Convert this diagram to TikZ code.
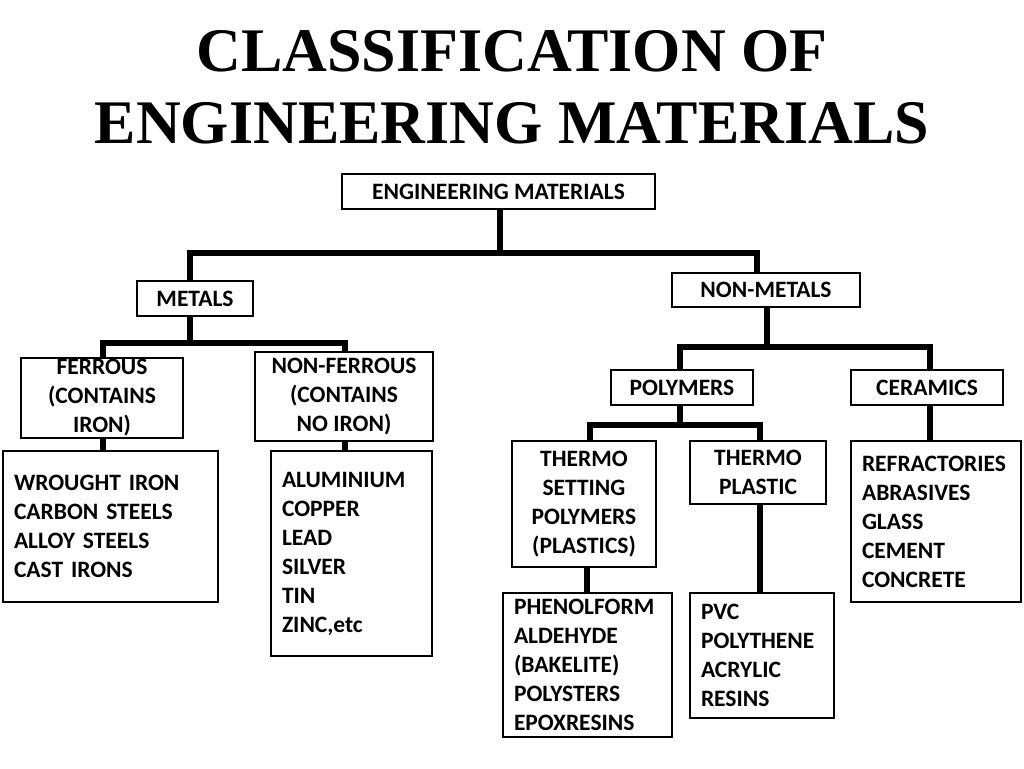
\documentclass[tikz,border=0pt]{standalone}
\usepackage{fontspec}
\setmainfont{Liberation Serif}
\newfontfamily\boxfont{Carlito}
\begin{document}
\begin{tikzpicture}[x=1pt,y=-1pt,
  bx/.style={draw,line width=2pt,inner sep=0pt,font=\boxfont\bfseries\fontsize{23.5}{29}\selectfont},
  lst/.style={bx,align=left,inner xsep=11pt,text width=#1-22pt},
  ctr/.style={bx,align=center},
  cn/.style={line width=5.5pt}]
\useasboundingbox (0,0) rectangle (1024,768);
\node[font=\bfseries\fontsize{62}{72}\selectfont,align=center] (title) at (512,87) {CLASSIFICATION OF\\ENGINEERING MATERIALS};
\node[ctr,minimum width=313,minimum height=35] (em) at (498.5,191.5) {ENGINEERING MATERIALS};
\node[ctr,minimum width=116,minimum height=35] (met) at (195,298.5) {METALS};
\node[ctr,minimum width=188,minimum height=34] (nm) at (766,290) {NON-METALS};
\node[ctr,minimum width=162,minimum height=80] (fe) at (102,398) {FERROUS\\(CONTAINS\\IRON)};
\node[ctr,minimum width=178,minimum height=89] (nf) at (344,396.5) {NON-FERROUS\\(CONTAINS\\NO IRON)};
\node[ctr,minimum width=142,minimum height=35] (pol) at (682,387.5) {POLYMERS};
\node[ctr,minimum width=152,minimum height=35] (cer) at (927,387.5) {CERAMICS};
\node[lst=215,minimum height=151] (wl) at (110.5,526.5) {WROUGHT IRON\\CARBON STEELS\\ALLOY STEELS\\CAST IRONS};
\node[lst=161,minimum height=205] (al) at (351.5,553.5) {ALUMINIUM\\COPPER\\LEAD\\SILVER\\TIN\\ZINC,etc};
\node[ctr,minimum width=144,minimum height=126] (ts) at (584,504) {THERMO\\SETTING\\POLYMERS\\(PLASTICS)};
\node[ctr,minimum width=136,minimum height=63] (tp) at (758,472.5) {THERMO\\PLASTIC};
\node[lst=170,minimum height=161] (rf) at (936,521.5) {REFRACTORIES\\ABRASIVES\\GLASS\\CEMENT\\CONCRETE};
\node[lst=169,minimum height=144] (ph) at (587.5,665) {PHENOLFORM\\ALDEHYDE\\(BAKELITE)\\POLYSTERS\\EPOXRESINS};
\node[lst=144,minimum height=125] (pvc) at (762,655.5) {PVC\\POLYTHENE\\ACRYLIC\\RESINS};
% connectors
\coordinate (j1) at (500,253);
\draw[cn] (em.south -| j1) -- (j1);
\draw[cn] (met.north -| 190,0) |- (j1) -| (nm.north -| 757,0);
\coordinate (j2) at (190,343);
\draw[cn] (met.south -| j2) -- (j2);
\draw[cn] (fe.north -| 103,0) |- (j2) -| (nf.north -| 345,0);
\coordinate (j3) at (767,347);
\draw[cn] (nm.south -| j3) -- (j3);
\draw[cn] (pol.north -| 680,0) |- (j3) -| (cer.north -| 930,0);
\coordinate (j4) at (680,425);
\draw[cn] (pol.south -| j4) -- (j4);
\draw[cn] (ts.north -| 590,0) |- (j4) -| (tp.north -| 760,0);
\draw[cn] (fe.south -| 103,0) -- (wl.north -| 103,0);
\draw[cn] (nf.south -| 345,0) -- (al.north -| 345,0);
\draw[cn] (cer.south -| 930,0) -- (rf.north -| 930,0);
\draw[cn] (ts.south -| 587,0) -- (ph.north -| 587,0);
\draw[cn] (tp.south -| 760,0) -- (pvc.north -| 760,0);
\end{tikzpicture}
\end{document}
